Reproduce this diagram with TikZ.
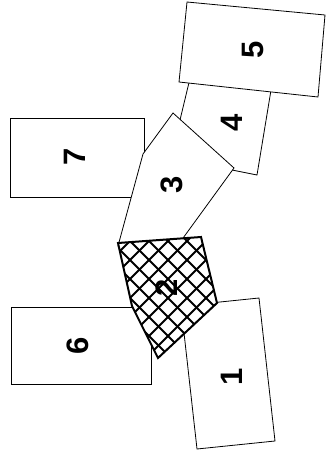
\documentclass[tikz,border=0pt]{standalone}
\usepackage{fontspec}
\setmainfont{Liberation Sans}
\begin{document}
\begin{tikzpicture}[x=1pt,y=-1pt,
  plot/.style={draw=black,fill=white,line width=0.8pt,line join=miter},
  num/.style={rotate=90,inner sep=0pt,font=\fontsize{31}{31}\selectfont\bfseries}]
\useasboundingbox (0,0) rectangle (325,458);
% box 7
\draw[plot] (10,118) rectangle (144,197);
\node[num] (t7) at (75,157) {7};
% box 6
\draw[plot] (11,307) rectangle (151,384);
\node[num] (t6) at (78,346) {6};
% box 4
\draw[plot] (192,70) -- (273,78) -- (257,175) -- (232,170) -- (180,120) -- cycle;
\node[num] (t4) at (232,123) {4};
% box 5
\draw[plot] (187,2) -- (325,15) -- (318,97) -- (179,82) -- cycle;
\node[num] (t5) at (253,50) {5};
% box 3
\draw[plot] (173,113) -- (234,168) -- (178,245) -- (118,246) -- (143,154) -- cycle;
\node[num] (t3) at (172,185) {3};
% box 1
\draw[plot] (181,306) -- (259,298) -- (275,441) -- (197,449) -- cycle;
\node[num] (t1) at (232,377) {1};
% hatched 2
\coordinate (a) at (118,243);
\coordinate (b) at (201,237);
\coordinate (c) at (217,303);
\coordinate (d) at (158,358);
\coordinate (e) at (132,306);
\fill[white] (a) -- (b) -- (c) -- (d) -- (e) -- cycle;
\begin{scope}
\clip (a) -- (b) -- (c) -- (d) -- (e) -- cycle;
\foreach \k in {-15,...,15} {
  \draw[line width=1.8pt] (100+\k*19,230) -- ++(140,140);
  \draw[line width=1.8pt] (160+\k*19,230) -- ++(-140,140);
}
\end{scope}
\draw[line width=2pt,line join=miter] (a) -- (b) -- (c) -- (d) -- (e) -- cycle;
\node[num] (t2) at (167,288) {2};
\end{tikzpicture}
\end{document}
